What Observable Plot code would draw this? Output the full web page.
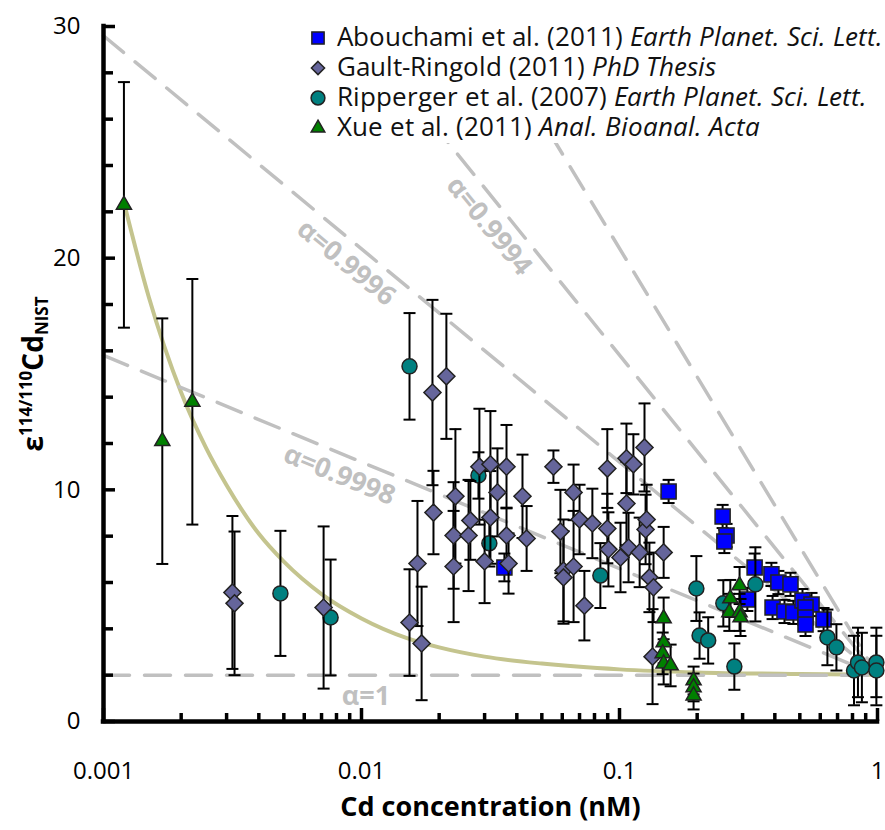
<!DOCTYPE html>
<html>
<head>
<meta charset="utf-8">
<script src="https://cdn.jsdelivr.net/npm/d3@7"></script>
<script src="https://cdn.jsdelivr.net/npm/@observablehq/plot@0.6"></script>
<style>
  /* Open Sans with tighter vertical metrics so the 30px legend rows do not collide */
  @font-face {
    font-family: "Legend Sans"; font-style: normal; font-weight: 400;
    src: local("Open Sans Regular"), local("OpenSans-Regular"), local("Open Sans");
    ascent-override: 80%; descent-override: 21%; line-gap-override: 0%;
  }
  @font-face {
    font-family: "Legend Sans"; font-style: italic; font-weight: 400;
    src: local("Open Sans Italic"), local("OpenSans-Italic");
    ascent-override: 80%; descent-override: 21%; line-gap-override: 0%;
  }
  body { margin: 0; background: #fff; font-family: "Open Sans", sans-serif; }
  #wrap { position: relative; width: 885px; height: 830px; }
  #legend { position: absolute; left: 300px; top: 23px; width: 585px; height: 120px; background: #fff; }
  .row { height: 30px; line-height: 30px; display: flex; align-items: center; white-space: nowrap;
         font-family: "Legend Sans", "Open Sans", sans-serif; font-size: 26px; color: #111; }
  .row svg { margin-left: 8px; margin-right: 9px; flex: none; }
</style>
</head>
<body>
<div id="wrap"><div id="legend"></div></div>
<script>
// Axis ticks and labels
const xMajor = [0.001, 0.01, 0.1, 1];
const xTickLabels = ["0.001", "0.01", "0.1", "1"];
const xMinor = [2, 3, 4, 5, 6, 7, 8, 9].flatMap(m => [m * 0.001, m * 0.01, m * 0.1]);
const yMajor = [0, 10, 20, 30];
const yMinor = [2, 4, 6, 8, 12, 14, 16, 18, 22, 24, 26, 28];

// Samples: [Cd concentration (nM), ε114/110Cd, ± error]
const abouchami = [
  [0.0358, 6.65, 0.6], [0.155, 9.93, 0.5], [0.251, 8.85, 0.5], [0.260, 8.03, 0.5],
  [0.255, 7.77, 0.5], [0.334, 6.65, 0.6], [0.388, 6.35, 0.5], [0.413, 6.0, 0.5],
  [0.460, 5.92, 0.5], [0.313, 5.27, 0.5], [0.392, 4.92, 0.5], [0.436, 4.75, 0.5],
  [0.472, 4.71, 0.5], [0.512, 5.22, 0.5], [0.555, 5.05, 0.5], [0.526, 4.92, 0.5],
  [0.526, 4.49, 0.5], [0.526, 4.19, 0.5], [0.618, 4.40, 0.5]
];
const ripperger = [
  [0.00485, 5.53, 2.7], [0.00759, 4.49, 2.5], [0.01535, 15.33, 2.3], [0.0284, 10.62, 1.0],
  [0.0313, 7.69, 1.0], [0.0843, 6.30, 1.4], [0.1986, 5.74, 1.4], [0.2043, 3.71, 1.0],
  [0.2207, 3.50, 1.0], [0.2526, 5.10, 1.0], [0.2787, 2.37, 1.0], [0.3363, 5.92, 1.6],
  [0.6395, 3.63, 1.2], [0.6931, 3.20, 1.0], [0.811, 2.20, 1.5], [0.840, 2.55, 1.5],
  [0.870, 2.33, 1.5], [0.990, 2.55, 1.5], [0.990, 2.20, 1.5]
];
const gaultRingold = [
  [0.00316, 5.57, 3.3], [0.00322, 5.10, 3.1], [0.00713, 4.92, 3.5], [0.01535, 4.27, 2.3],
  [0.01648, 6.82, 2.7], [0.0171, 3.37, 2.45], [0.01884, 14.2, 4.0], [0.01901, 9.02, 1.8],
  [0.02133, 14.9, 2.7], [0.02275, 8.03, 2.3], [0.02275, 6.69, 2.4], [0.02312, 9.72, 2.9],
  [0.0260, 8.03, 2.4], [0.02642, 8.68, 1.7], [0.02864, 11.0, 2.5], [0.0300, 6.91, 1.8],
  [0.0316, 11.1, 2.3], [0.0316, 8.81, 2.0], [0.03365, 9.89, 1.9], [0.03648, 11.0, 1.8],
  [0.03648, 8.03, 1.2], [0.03715, 6.82, 1.3], [0.04207, 9.72, 1.8], [0.04365, 7.90, 1.4],
  [0.05546, 11.0, 0.7], [0.05902, 8.2, 1.8], [0.06067, 6.52, 2.2], [0.06067, 6.22, 2.0],
  [0.06637, 9.89, 1.2], [0.06637, 6.69, 2.4], [0.0700, 8.72, 1.5], [0.0731, 5.0, 1.5],
  [0.0785, 8.55, 1.5], [0.0897, 10.92, 1.7], [0.0897, 8.33, 1.5], [0.0906, 7.43, 1.6],
  [0.1009, 7.08, 1.5], [0.1064, 11.36, 1.5], [0.1064, 9.41, 1.8], [0.1084, 7.51, 1.5],
  [0.1132, 11.1, 1.3], [0.1197, 7.3, 1.5], [0.1250, 11.83, 1.9], [0.1262, 8.29, 1.5],
  [0.1274, 8.72, 1.5], [0.1306, 6.22, 1.5], [0.1343, 2.8, 2.05], [0.1355, 5.79, 1.5],
  [0.1483, 7.3, 1.1]
];
const xue = [
  [0.00120, 22.3, 5.3], [0.00169, 12.1, 5.3], [0.00221, 13.8, 5.3],
  [0.1483, 4.45, 0.9], [0.1483, 3.41, 0.9], [0.1470, 2.94, 0.9], [0.1483, 2.5, 0.9],
  [0.1578, 2.42, 0.9], [0.1937, 1.77, 0.6], [0.1937, 1.47, 0.6], [0.1937, 1.12, 0.6],
  [0.2689, 5.31, 0.8], [0.2665, 4.71, 0.8], [0.2920, 5.87, 0.8], [0.2920, 4.71, 0.8],
  [0.2945, 4.49, 0.8]
];

// Mixing curve [concentration, ε]
const mixingCurve = [
  [0.0012, 22.4], [0.0015, 18.3], [0.002, 14.2], [0.0025, 11.8], [0.003, 10.2],
  [0.004, 8.1], [0.005, 6.9], [0.007, 5.5], [0.01, 4.45], [0.015, 3.6], [0.02, 3.2],
  [0.03, 2.8], [0.05, 2.5], [0.1, 2.25], [0.2, 2.12], [0.5, 2.05], [1, 2.02]
];

// Rayleigh fractionation lines [concentration, ε]
const rayleigh1 = [[0.001, 2], [1, 2]];
const rayleigh9998 = [[0.001, 15.8], [1, 2]];
const rayleigh9996 = [[0.001, 29.6], [1, 2]];
const rayleigh9994 = [[0.0094, 30], [1, 2]];
const rayleigh9992 = [[0.0302, 30], [1, 2]];
const alphaLabels = ["α=1", "α=0.9998", "α=0.9996", "α=0.9994"];
const alphaLabelConc = [0.0104, 0.0088, 0.0098, 0.036];

// Legend entries
const legendAuthors = ["Abouchami et al. (2011)", "Gault-Ringold (2011)", "Ripperger et al. (2007)", "Xue et al. (2011)"];
const legendJournals = ["Earth Planet. Sci. Lett.", "PhD Thesis", "Earth Planet. Sci. Lett.", "Anal. Bioanal. Acta"];

const W = 885, H = 830;
const mL = 103, mR = 8, mT = 26, mB = 109;
const pxPerUnitY = (H - mB - mT) / 30;
const pxPerDecade = (W - mL - mR) / 3;
const unitsY = px => px / pxPerUnitY;
const logStep = px => Math.pow(10, px / pxPerDecade);

const grey = "#c0c0c0";
const capSymbol = { draw(ctx) { ctx.moveTo(-6, 0); ctx.lineTo(6, 0); } };

function seriesMarks(data, symbol, r, fill) {
  return [
    Plot.ruleX(data, { x: d => d[0], y1: d => d[1] - d[2], y2: d => d[1] + d[2], stroke: "#000", strokeWidth: 2 }),
    Plot.dot(data, { x: d => d[0], y: d => d[1] - d[2], symbol: capSymbol, fill: "none", stroke: "#000", strokeWidth: 2 }),
    Plot.dot(data, { x: d => d[0], y: d => d[1] + d[2], symbol: capSymbol, fill: "none", stroke: "#000", strokeWidth: 2 }),
    Plot.dot(data, { x: d => d[0], y: d => d[1], symbol, r, fill, stroke: "#222", strokeWidth: 1.5 })
  ];
}

const labelLines = [rayleigh1, rayleigh9998, rayleigh9996, rayleigh9994];
const labelAngles = [0, 22.3, 39.6, 51];
const labelOffset = [21, 20.5, 20.5, 20.5];
function onLine(line, c) {
  const [[c0, e0], [c1, e1]] = line;
  const t = (Math.log10(c) - Math.log10(c0)) / (Math.log10(c1) - Math.log10(c0));
  return e0 + t * (e1 - e0);
}
const labelMarks = alphaLabels.map((t, i) => {
  const a = labelAngles[i] * Math.PI / 180;
  return Plot.text([t], {
    x: () => alphaLabelConc[i], y: () => onLine(labelLines[i], alphaLabelConc[i]),
    text: d => d, rotate: labelAngles[i], textAnchor: "middle",
    dx: -labelOffset[i] * Math.sin(a), dy: labelOffset[i] * Math.cos(a),
    fill: grey, fontWeight: "bold", fontSize: 27
  });
});

const chart = Plot.plot({
  width: W, height: H,
  marginLeft: mL, marginRight: mR, marginTop: mT, marginBottom: mB,
  style: { fontFamily: "Open Sans", background: "white", color: "#000" },
  x: { type: "log", domain: [0.001, 1] },
  y: { domain: [0, 30] },
  marks: [
    Plot.line(mixingCurve, { x: d => d[0], y: d => d[1], stroke: "#c4c48e", strokeWidth: 4, curve: "monotone-x" }),
    ...[rayleigh1, rayleigh9998, rayleigh9996, rayleigh9994, rayleigh9992].map(l =>
      Plot.line(l, { x: d => d[0], y: d => d[1], stroke: grey, strokeWidth: 3.5, strokeDasharray: "26,15" })),
    ...labelMarks,
    // axis lines and inward ticks
    Plot.ruleX(xMinor, { x: d => d, y1: 0, y2: unitsY(8), stroke: "#000", strokeWidth: 3.5 }),
    Plot.ruleX(xMajor, { x: d => d, y1: 0, y2: unitsY(13), stroke: "#000", strokeWidth: 3.5 }),
    Plot.ruleY(yMinor, { y: d => d, x1: 0.001, x2: 0.001 * logStep(10), stroke: "#000", strokeWidth: 3.5 }),
    Plot.ruleY(yMajor, { y: d => d, x1: 0.001, x2: 0.001 * logStep(12), stroke: "#000", strokeWidth: 3.5 }),
    Plot.ruleY([0], { x1: 0.001, x2: 1, stroke: "#000", strokeWidth: 4.5, strokeLinecap: "square" }),
    Plot.ruleX([0.001], { y1: 0, y2: 30, stroke: "#000", strokeWidth: 4.5, strokeLinecap: "square" }),
    Plot.axisX({ ticks: xMajor, tickSize: 0, tickPadding: 40, fontSize: 24, tickFormat: d => xTickLabels[xMajor.indexOf(d)] }),
    Plot.axisY({ ticks: yMajor, tickSize: 0, tickPadding: 23, fontSize: 24 }),
    Plot.text(["Cd concentration (nM)"], { frameAnchor: "bottom", dy: 94, text: d => d, fontWeight: "bold", fontSize: 27 }),
    // data series
    ...seriesMarks(abouchami, "square", 8.5, "#0000ff"),
    ...seriesMarks(ripperger, "circle", 7.5, "#008080"),
    ...seriesMarks(gaultRingold, "diamond2", 7.7, "#65659b"),
    ...seriesMarks(xue, "triangle", 5.6, "#008000")
  ]
});

// y-axis title with superscript and subscript
const ylab = d3.select(chart).append("text")
  .attr("transform", "translate(43,374) rotate(-90)")
  .attr("text-anchor", "middle")
  .style("font-family", "Open Sans").style("font-weight", "bold").style("font-size", "28px");
ylab.append("tspan").text("ε");
ylab.append("tspan").attr("dy", -11).style("font-size", "17px").text("114/110");
ylab.append("tspan").attr("dy", 11).text("Cd");
ylab.append("tspan").attr("dy", 5).style("font-size", "17px").text("NIST");

const wrap = document.getElementById("wrap");
wrap.insertBefore(chart, wrap.firstChild);

// legend
const legendSymbols = [
  { type: d3.symbolSquare, size: 150, fill: "#0000ff" },
  { type: d3.symbolDiamond2, size: 110, fill: "#65659b" },
  { type: d3.symbolCircle, size: 150, fill: "#008080" },
  { type: d3.symbolTriangle, size: 80, fill: "#008000" }
];
const legend = d3.select("#legend");
legendAuthors.forEach((a, i) => {
  const row = legend.append("div").attr("class", "row");
  const s = row.append("svg").attr("width", 20).attr("height", 20);
  s.append("path").attr("transform", "translate(10,10)")
    .attr("d", d3.symbol(legendSymbols[i].type, legendSymbols[i].size)())
    .attr("fill", legendSymbols[i].fill).attr("stroke", "#222").attr("stroke-width", 1.5);
  row.append("span").style("margin-right", "7px").text(a);
  row.append("i").text(legendJournals[i]);
});
</script>
</body>
</html>
